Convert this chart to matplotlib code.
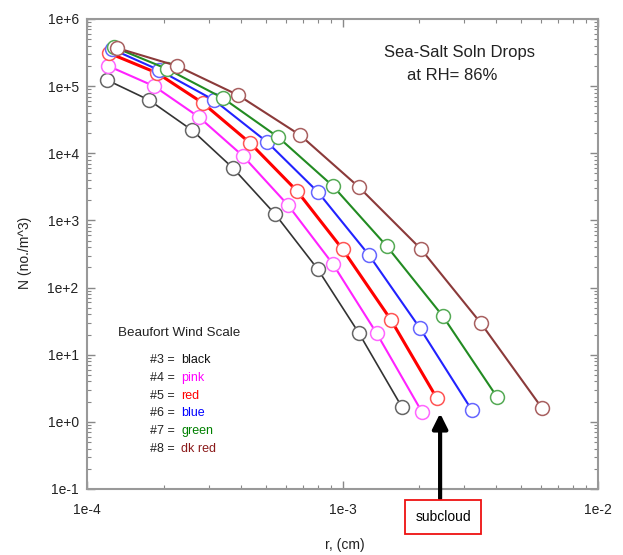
import numpy as np
import matplotlib
matplotlib.use("Agg")
import matplotlib.pyplot as plt

plt.rcParams['font.family'] = ['Liberation Sans', 'DejaVu Sans']

# radius (cm) and number concentration (no./m^3) for each Beaufort wind scale
r_b3 = [1.20e-4, 1.75e-4, 2.58e-4, 3.73e-4, 5.45e-4, 8.0e-4, 1.16e-3, 1.71e-3]
n_b3 = [1.23e5, 6.2e4, 2.2e4, 6.0e3, 1.24e3, 188, 20.9, 1.65]

r_b4 = [1.21e-4, 1.83e-4, 2.74e-4, 4.08e-4, 6.12e-4, 9.18e-4, 1.36e-3, 2.05e-3]
n_b4 = [2.0e5, 1.0e5, 3.47e4, 9.1e3, 1.69e3, 223, 20.9, 1.39]

r_b5 = [1.22e-4, 1.88e-4, 2.84e-4, 4.35e-4, 6.64e-4, 1.0e-3, 1.55e-3, 2.34e-3]
n_b5 = [3.1e5, 1.57e5, 5.6e4, 1.42e4, 2.74e3, 373, 32.7, 2.25]

r_b6 = [1.25e-4, 1.91e-4, 3.14e-4, 5.07e-4, 8.02e-4, 1.27e-3, 2.01e-3, 3.21e-3]
n_b6 = [3.57e5, 1.74e5, 6.2e4, 1.47e4, 2.64e3, 304, 24.8, 1.49]

r_b7 = [1.28e-4, 2.06e-4, 3.40e-4, 5.60e-4, 9.18e-4, 1.49e-3, 2.47e-3, 4.03e-3]
n_b7 = [3.8e5, 1.8e5, 6.65e4, 1.74e4, 3.24e3, 414, 37.5, 2.33]

r_b8 = [1.31e-4, 2.25e-4, 3.90e-4, 6.82e-4, 1.16e-3, 2.03e-3, 3.48e-3, 6.04e-3]
n_b8 = [3.7e5, 2.0e5, 7.36e4, 1.87e4, 3.13e3, 373, 29.5, 1.60]

series = [
    (r_b3, n_b3, '#333333', '#666666', 1.2),
    (r_b4, n_b4, '#ff22ff', '#ff66ff', 1.5),
    (r_b5, n_b5, '#ff0000', '#ff5555', 2.2),
    (r_b6, n_b6, '#2222ff', '#6666ff', 1.5),
    (r_b7, n_b7, '#228b22', '#55aa55', 1.5),
    (r_b8, n_b8, '#8b3a3a', '#a86060', 1.5),
]

legend_title = "Beaufort Wind Scale"
legend_keys = ["#3 = ", "#4 = ", "#5 = ", "#6 = ", "#7 = ", "#8 = "]
legend_words = ["black", "pink", "red", "blue", "green", "dk red"]
legend_colors = ['#111111', '#ff00ff', '#ff0000', '#0000ff', '#008000', '#8b1a1a']

xticks = [1e-4, 1e-3, 1e-2]
xticklabels = ["1e-4", "1e-3", "1e-2"]
yticks = [1e-1, 1e0, 1e1, 1e2, 1e3, 1e4, 1e5, 1e6]
yticklabels = ["1e-1", "1e+0", "1e+1", "1e+2", "1e+3", "1e+4", "1e+5", "1e+6"]

W, H = 623, 555
fig = plt.figure(figsize=(W / 100, H / 100), dpi=100)
ax = fig.add_axes([87 / W, 1 - 489 / H, (598 - 87) / W, (489 - 19) / H])

for r, n, lc, mc, lw in series:
    ax.plot(r, n, color=lc, lw=lw, marker='o', ms=10, mfc='white',
            mec=mc, mew=1.1, zorder=3)

ax.set_xscale('log')
ax.set_yscale('log')
ax.set_xlim(1e-4, 1e-2)
ax.set_ylim(1e-1, 1e6)
ax.set_xticks(xticks)
ax.set_xticklabels(xticklabels)
ax.set_yticks(yticks)
ax.set_yticklabels(yticklabels)
ax.tick_params(which='both', direction='in', top=True, right=True, colors='#888888',
               labelcolor='#222222')
ax.tick_params(which='major', length=6, width=1.0, labelsize=10)
ax.tick_params(axis='x', which='major', pad=10)
ax.tick_params(axis='y', which='major', pad=6)
ax.tick_params(which='minor', length=3, width=0.8)
for s in ax.spines.values():
    s.set_color('#999999')
    s.set_linewidth(1.5)

def fx(px):
    return px / W

def fy(py):
    return 1 - py / H

fig.text(fx(345), fy(545), "r, (cm)", fontsize=10, ha='center', va='center',
         color='#222222')
fig.text(fx(25), fy(253), "N (no./m^3)", fontsize=10, ha='center', va='center',
         rotation=90, color='#222222')

fig.text(fx(460), fy(53), "Sea-Salt Soln Drops", fontsize=12, ha='center', va='center',
         color='#222222')
fig.text(fx(452), fy(76), "at RH= 86%", fontsize=12, ha='center', va='center',
         color='#222222')

fig.text(fx(118), fy(333), legend_title, fontsize=9.6, ha='left', va='center',
         color='#222222')
for i, (k, wd, c) in enumerate(zip(legend_keys, legend_words, legend_colors)):
    y = 360 + i * 17.8
    fig.text(fx(150), fy(y), k, fontsize=9, ha='left', va='center', color='#222222')
    fig.text(fx(181), fy(y), wd, fontsize=9, ha='left', va='center', color=c)

# subcloud arrow and box
ax.annotate("", xy=(2.41e-3, 1.34), xytext=(2.41e-3, 0.072),
            arrowprops=dict(arrowstyle='-|>,head_length=0.9,head_width=0.45',
                            color='black', lw=3, shrinkA=0, shrinkB=0),
            annotation_clip=False, zorder=5)
fig.text(fx(443), fy(517), "subcloud", fontsize=10, ha='center', va='center',
         color='black',
         bbox=dict(boxstyle='square,pad=0.7', fc='white', ec='#ee1111', lw=1.3))

fig.savefig("out.png", dpi=100)
